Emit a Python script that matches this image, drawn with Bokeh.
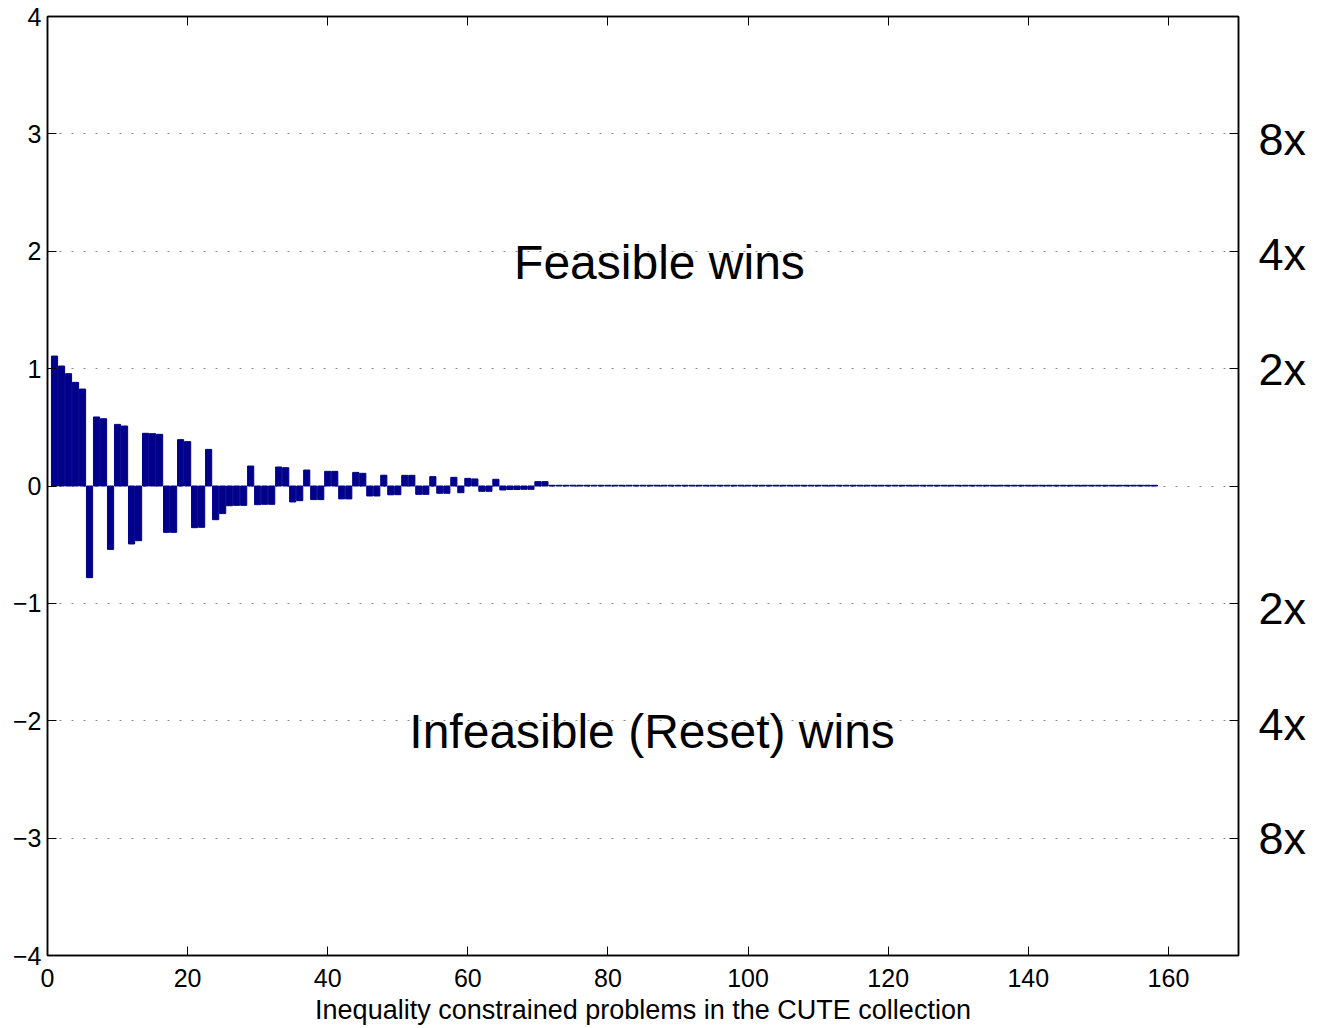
from bokeh.plotting import figure
from bokeh.models import (ColumnDataSource, Label, LinearAxis, FixedTicker, Range1d,
                          CustomJSTickFormatter)
from bokeh.embed import file_html
from bokeh.resources import INLINE

# bar values for problems 1..71, the rest (72..158) are ~0
head_values = [1.107, 1.022, 0.957, 0.883, 0.826, -0.781, 0.588, 0.573, -0.540, 0.525,
               0.511, -0.494, -0.466, 0.449, 0.446, 0.440, -0.395, -0.395, 0.395, 0.378,
               -0.355, -0.352, 0.312, -0.287, -0.235, -0.168, -0.165, -0.165, 0.170, -0.159,
               -0.156, -0.156, 0.162, 0.156, -0.136, -0.125, 0.136, -0.116, -0.116, 0.125,
               0.125, -0.110, -0.110, 0.116, 0.108, -0.085, -0.085, 0.092, -0.075, -0.074,
               0.091, 0.091, -0.071, -0.071, 0.080, -0.062, -0.062, 0.074, -0.057, 0.065,
               0.060, -0.045, -0.045, 0.057, -0.034, -0.030, -0.030, -0.028, -0.028, 0.037,
               0.037]
tail_values = [0.006] * (158 - len(head_values))
values = head_values + tail_values
problems = list(range(1, len(values) + 1))

x_ticks = [0, 20, 40, 60, 80, 100, 120, 140, 160]
y_ticks = [-4, -3, -2, -1, 0, 1, 2, 3, 4]
# speed-up labels on the right side (text and the y level each sits at)
right_labels = ["8x", "4x", "2x", "2x", "4x", "8x"]
right_label_y = [2.95, 1.97, 0.99, -1.04, -2.03, -3.0]
xlabel = "Inequality constrained problems in the CUTE collection"

src = ColumnDataSource(dict(x=problems, top=values))

p = figure(width=1320, height=1028, output_backend="svg", toolbar_location=None,
           x_range=Range1d(0, 170), y_range=Range1d(-4, 4),
           min_border_left=47, min_border_right=82, min_border_top=16, min_border_bottom=73)
p.outline_line_color = "black"
p.outline_line_width = 1.5
p.background_fill_color = "white"
p.border_fill_color = "white"

p.vbar(x="x", top="top", bottom=0, width=0.88, source=src,
       fill_color="#00008B", line_color="#00008B", line_width=1)

font = "Liberation Sans"
for ax in (p.xaxis[0], p.yaxis[0]):
    ax.major_tick_in = 9
    ax.major_tick_out = 0
    ax.minor_tick_line_color = None
    ax.axis_line_color = "black"
    ax.axis_line_width = 1.5
    ax.major_tick_line_color = "black"
    ax.major_label_text_font = font
    ax.major_label_text_font_size = "25px"
    ax.major_label_text_color = "black"
    ax.major_label_text_font_style = "normal"
p.xaxis.ticker = FixedTicker(ticks=x_ticks)
p.yaxis.ticker = FixedTicker(ticks=y_ticks)
p.yaxis.major_label_overrides = {t: ("\u2212" + str(-t) if t < 0 else str(t)) for t in y_ticks}
p.xaxis.major_label_standoff = 13
p.yaxis.major_label_standoff = 6
p.xaxis.axis_label = xlabel
p.xaxis.axis_label_text_font = font
p.xaxis.axis_label_text_font_size = "27px"
p.xaxis.axis_label_text_font_style = "normal"
p.xaxis.axis_label_text_color = "black"
p.xaxis.axis_label_standoff = 5

blank = CustomJSTickFormatter(code='return "";')
top_ax = LinearAxis(ticker=FixedTicker(ticks=x_ticks), formatter=blank,
                    major_tick_in=9, major_tick_out=0, minor_tick_line_color=None,
                    axis_line_width=1.5, major_label_standoff=0)
p.add_layout(top_ax, "above")

# right frame ticks (nearest to the frame)
right_ax = LinearAxis(ticker=FixedTicker(ticks=y_ticks), formatter=blank,
                      major_tick_in=9, major_tick_out=0, minor_tick_line_color=None,
                      axis_line_width=1.5, major_label_standoff=0)
p.add_layout(right_ax, "right")

# right axis carrying the ratio labels (no line, no ticks)
ratio_ax = LinearAxis(ticker=FixedTicker(ticks=right_label_y),
                      formatter=CustomJSTickFormatter(args=dict(ys=right_label_y, txt=right_labels), code="""
                          let best = 0;
                          for (let i = 0; i < ys.length; i++) {
                              if (Math.abs(ys[i] - tick) < Math.abs(ys[best] - tick)) best = i;
                          }
                          return txt[best];
                      """),
                      major_tick_in=0, major_tick_out=0, minor_tick_line_color=None,
                      axis_line_color=None, major_tick_line_color=None,
                      major_label_standoff=20, major_label_text_font=font,
                      major_label_text_font_size="45px", major_label_text_color="black")
p.add_layout(ratio_ax, "right")

p.xgrid.grid_line_color = None
p.ygrid.ticker = FixedTicker(ticks=[-3, -2, -1, 0, 1, 2, 3])
p.ygrid.grid_line_color = "#888888"
p.ygrid.grid_line_dash = "2 10"
p.ygrid.grid_line_width = 1.2

p.add_layout(Label(x=87.35, y=1.9, text="Feasible wins", text_font=font,
                   text_font_size="48px", text_baseline="alphabetic", text_align="center",
                   text_color="black"))
p.add_layout(Label(x=86.3, y=-2.09, text="Infeasible (Reset) wins", text_font=font,
                   text_font_size="48px", text_baseline="alphabetic", text_align="center",
                   text_color="black"))

open("out.html", "w").write(file_html(p, INLINE))
